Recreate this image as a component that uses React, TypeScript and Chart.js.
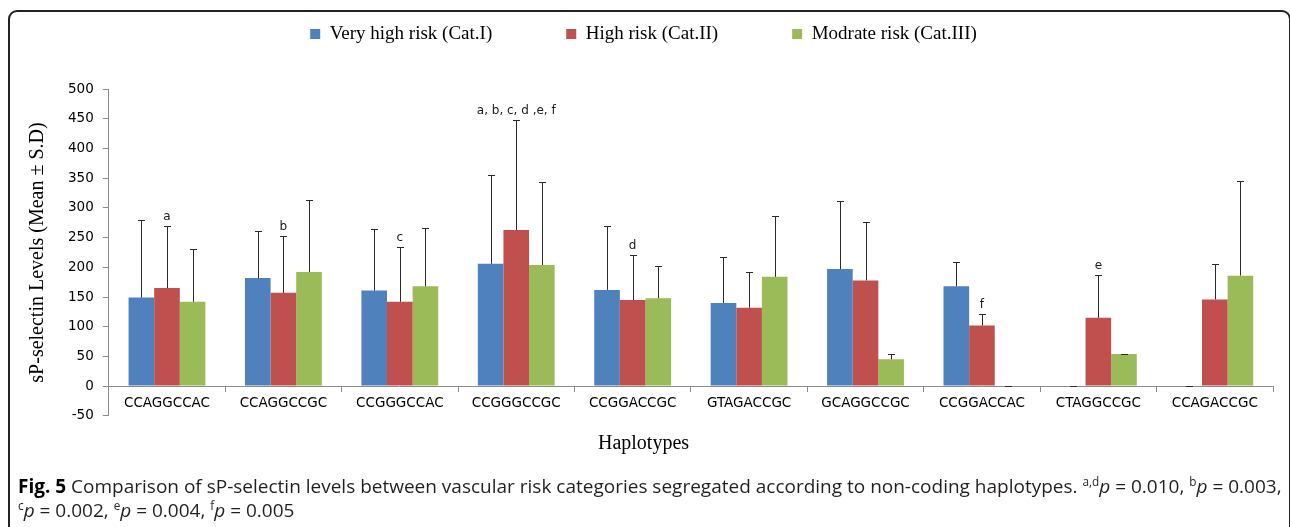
import React, { useEffect, useRef } from "react";
import { Chart, registerables } from "chart.js";

Chart.register(...registerables);

// ---- data ----
const categories = [
  "CCAGGCCAC",
  "CCAGGCCGC",
  "CCGGGCCAC",
  "CCGGGCCGC",
  "CCGGACCGC",
  "GTAGACCGC",
  "GCAGGCCGC",
  "CCGGACCAC",
  "CTAGGCCGC",
  "CCAGACCGC",
];
const seriesLabels = ["Very high risk (Cat.I)", "High risk (Cat.II)", "Modrate risk (Cat.III)"];
const seriesColors = ["#4F81BD", "#C0504D", "#9BBB59"];

const veryHighMean = [149, 182, 161, 206, 162, 140, 197, 168, 0, 0];
const veryHighUpper = [279, 262, 264, 355, 270, 217, 311, 209, 0, 0];
const highMean = [165, 157, 142, 263, 145, 132, 178, 102, 115, 146];
const highUpper = [270, 253, 234, 448, 221, 192, 276, 121, 187, 206];
const moderateMean = [142, 192, 168, 204, 148, 184, 45, 0, 54, 186];
const moderateUpper = [231, 314, 267, 344, 203, 286, 54, 0, 54, 345];

const significanceNotes = ["a", "b", "c", "a, b, c, d ,e, f", "d", "", "", "f", "e", ""];

const yMin = -50;
const yMax = 500;
const yStep = 50;

const yTitle = "sP-selectin Levels (Mean \u00b1 S.D)";
const xTitle = "Haplotypes";

const errorBarPlugin = {
  id: "errorBars",
  afterDatasetsDraw(chart: any) {
    const { ctx } = chart;
    const yScale = chart.scales.y;
    ctx.save();
    ctx.strokeStyle = "#2a2a2a";
    ctx.lineWidth = 1;
    chart.data.datasets.forEach((ds: any, i: number) => {
      const meta = chart.getDatasetMeta(i);
      meta.data.forEach((bar: any, j: number) => {
        const x = Math.round(bar.x) + 0.5;
        const yTop = Math.round(yScale.getPixelForValue(ds.upper[j])) + 0.5;
        const yBase = yScale.getPixelForValue(ds.data[j]);
        ctx.beginPath();
        ctx.moveTo(x, yBase);
        ctx.lineTo(x, yTop);
        ctx.moveTo(x - 3.5, yTop);
        ctx.lineTo(x + 3.5, yTop);
        ctx.stroke();
      });
    });
    ctx.restore();
  },
};

const notesPlugin = {
  id: "notes",
  afterDatasetsDraw(chart: any) {
    const { ctx } = chart;
    const yScale = chart.scales.y;
    const meta = chart.getDatasetMeta(1);
    ctx.save();
    ctx.fillStyle = "#1a1a1a";
    ctx.font = "12px 'DejaVu Sans'";
    ctx.textAlign = "center";
    ctx.textBaseline = "bottom";
    meta.data.forEach((bar: any, j: number) => {
      const txt = significanceNotes[j];
      if (!txt) return;
      const y = yScale.getPixelForValue(highUpper[j]) - 3;
      ctx.fillText(txt, bar.x, y);
    });
    ctx.restore();
  },
};

function BarChart() {
  const ref = useRef<HTMLCanvasElement | null>(null);
  useEffect(() => {
    if (!ref.current) return;
    const chart = new Chart(ref.current, {
      type: "bar",
      data: {
        labels: categories,
        datasets: [
          { label: seriesLabels[0], data: veryHighMean, upper: veryHighUpper, backgroundColor: seriesColors[0] } as any,
          { label: seriesLabels[1], data: highMean, upper: highUpper, backgroundColor: seriesColors[1] } as any,
          { label: seriesLabels[2], data: moderateMean, upper: moderateUpper, backgroundColor: seriesColors[2] } as any,
        ],
      },
      options: {
        responsive: false,
        animation: false,
        devicePixelRatio: 1,
        layout: { padding: { left: 14, right: 17, top: -49.5, bottom: 0 } },
        datasets: {
          bar: { categoryPercentage: 0.66, barPercentage: 1, borderWidth: 0 },
        },
        plugins: {
          tooltip: { enabled: false },
          legend: {
            display: true,
            position: "top",
            labels: {
              boxWidth: 10,
              boxHeight: 10,
              padding: 74,
              color: "#000",
              font: { family: "'Liberation Serif'", size: 19 },
            },
          },
          subtitle: {
            display: true,
            text: "",
            weight: 500,
            font: { size: 1 },
            padding: { top: 0, bottom: 34.6 },
          } as any,
          title: {
            display: true,
            text: xTitle,
            position: "bottom",
            color: "#000",
            font: { family: "'Liberation Serif'", size: 20, weight: "normal" },
            padding: { top: 16.3, bottom: 14 },
          },
        },
        scales: {
          x: {
            type: "category",
            position: { y: 0 } as any,
            offset: true,
            grid: { drawOnChartArea: false, offset: true, tickLength: 5, color: "#8c8c8c" },
            border: { color: "#8c8c8c" },
            ticks: {
              color: "#000",
              padding: 4,
              maxRotation: 0,
              autoSkip: false,
              font: { family: "'DejaVu Sans'", size: 13.5 },
            },
          },
          y: {
            min: yMin,
            max: yMax,
            grid: { drawOnChartArea: false, tickLength: 6, color: "#8c8c8c" },
            border: { color: "#8c8c8c" },
            ticks: {
              stepSize: yStep,
              color: "#000",
              padding: 9,
              font: { family: "'DejaVu Sans'", size: 13.5 },
            },
            title: {
              display: true,
              text: yTitle,
              color: "#000",
              font: { family: "'Liberation Serif'", size: 20 },
              padding: { top: 12, bottom: 9 },
            },
          },
        },
      },
      plugins: [errorBarPlugin, notesPlugin],
    });
    return () => chart.destroy();
  }, []);
  return <canvas ref={ref} width={1290} height={470} style={{ position: "absolute", left: 0, top: 0, width: 1290, height: 470 }} />;
}

export default function App() {
  const supStyle: React.CSSProperties = { fontSize: "0.62em", verticalAlign: "super", lineHeight: 0 };
  return (
    <div style={{ position: "fixed", left: 0, top: 0, width: 1290, height: 527, overflow: "hidden", background: "#fff" }}>
      <BarChart />
      <div
        style={{
          position: "absolute",
          left: 8,
          top: 10,
          width: 1283,
          height: 560,
          boxSizing: "border-box",
          border: "2px solid #222",
          borderRadius: 9,
          pointerEvents: "none",
        }}
      />
      <div
        style={{
          position: "absolute",
          left: 18,
          top: 474,
          whiteSpace: "nowrap",
          fontFamily: "'Open Sans', sans-serif",
          fontSize: 19,
          lineHeight: "24px",
          color: "#231f20",
        }}
      >
        <span style={{ fontWeight: 700, color: "#000" }}>Fig. 5</span> Comparison of sP-selectin levels between vascular risk
        categories segregated according to non-coding haplotypes. <sup style={supStyle}>a,d</sup>
        <i>p</i> = 0.010, <sup style={supStyle}>b</sup>
        <i>p</i> = 0.003,
        <br />
        <sup style={supStyle}>c</sup>
        <i>p</i> = 0.002, <sup style={supStyle}>e</sup>
        <i>p</i> = 0.004, <sup style={supStyle}>f</sup>
        <i>p</i> = 0.005
      </div>
    </div>
  );
}
